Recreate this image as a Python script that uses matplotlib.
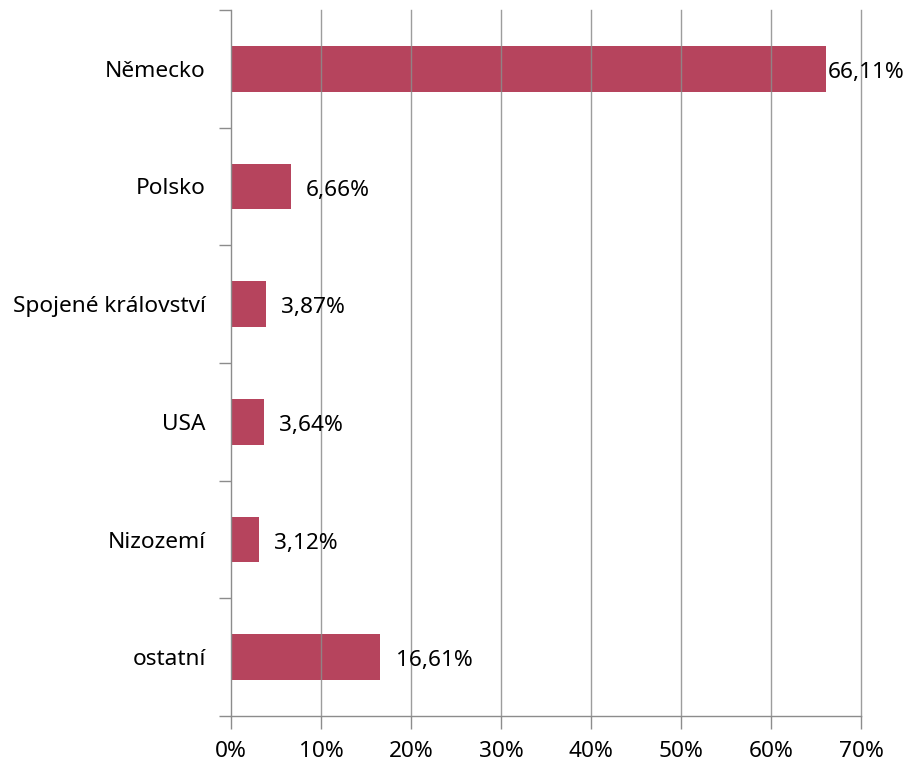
import matplotlib
matplotlib.use("Agg")
import matplotlib.pyplot as plt
import numpy as np

categories = ["Německo", "Polsko", "Spojené království", "USA", "Nizozemí", "ostatní"]
values = [66.11, 6.66, 3.87, 3.64, 3.12, 16.61]
labels = ["66,11%", "6,66%", "3,87%", "3,64%", "3,12%", "16,61%"]
xticks = [0, 10, 20, 30, 40, 50, 60, 70]
xticklabels = [f"{v}%" for v in xticks]

plt.rcParams['font.family'] = ['Noto Sans', 'DejaVu Sans']
plt.rcParams['font.stretch'] = 'normal'

fig = plt.figure(figsize=(9.08, 7.63), dpi=100)
ax = fig.add_axes([231/908, 1-716/763, (861-231)/908, (716-10)/763])

n = len(categories)
ypos = np.arange(n)[::-1]  # top first
bar_color = "#B5405A"
gray = "#8C8C8C"
fs = 16.3

ax.barh(ypos, values, height=0.39, color=bar_color, zorder=2, alpha=0.98)
ax.set_xlim(0, 70)
ax.set_ylim(-0.5, n - 0.5)

for x in xticks[1:]:
    ax.axvline(x, color=gray, lw=1.0, zorder=3, alpha=0.85, clip_on=False)

for y, v, lab in zip(ypos, values, labels):
    off = 0.2 if v > 60 else 1.7
    ax.text(v + off, y - 0.03, lab, va="center", ha="left", fontsize=fs, color="black", zorder=4)

ax.set_xticks(xticks)
ax.set_xticklabels(xticklabels, fontsize=fs)
ax.tick_params(axis="x", length=9, color=gray, width=1, pad=9)

ax.set_yticks(ypos)
ax.set_yticklabels(categories, fontsize=fs)
ax.tick_params(axis="y", which="major", length=0, pad=18)
ax.set_yticks(np.arange(n + 1) - 0.5, minor=True)
ax.tick_params(axis="y", which="minor", length=9, color=gray, width=1)

for s in ["top", "right"]:
    ax.spines[s].set_visible(False)
for s in ["left", "bottom"]:
    ax.spines[s].set_color(gray)
    ax.spines[s].set_linewidth(1)

fig.savefig("out.png", dpi=100)
